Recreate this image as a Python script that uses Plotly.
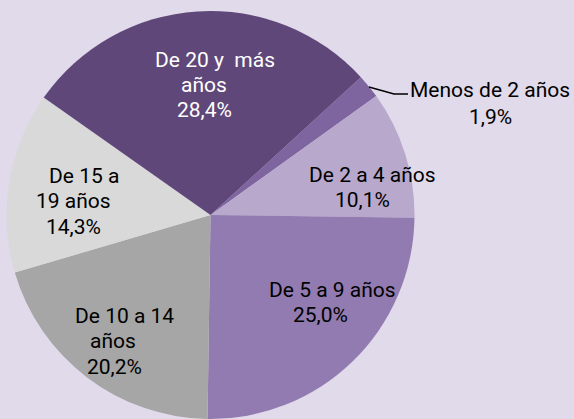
import plotly.graph_objects as go

# data (clockwise from the small slice)
labels = ["Menos de 2 años", "De 2 a 4 años", "De 5 a 9 años",
          "De 10 a 14 años", "De 15 a 19 años", "De 20 y más años"]
values = [1.9, 10.1, 25.0, 20.2, 14.3, 28.4]
colors = ["#7e659f", "#b8a8cc", "#927bb0", "#a6a6a6", "#d9d9d9", "#5f4879"]

# label text, one list of lines per slice
label_lines = [
    ["Menos de 2 años", "1,9%"],
    ["De 2 a 4 años", "10,1%"],
    ["De 5 a 9 años", "25,0%"],
    ["De 10 a 14", "años", "20,2%"],
    ["De 15 a", "19 años", "14,3%"],
    ["De 20 y  más", "años", "28,4%"],
]
label_colors = ["black", "black", "black", "black", "black", "white"]

W, H = 574, 419
BG = "#e0daea"

# line centres in pixels, per slice
label_pos = [
    [(490, 90), (490, 117)],
    [(372, 175), (362, 200)],
    [(332, 290), (320, 315)],
    [(125, 316), (113, 341), (114, 367)],
    [(84, 176), (73, 201), (73, 227)],
    [(215, 60), (204, 85), (204, 110)],
]

fig = go.Figure(go.Pie(
    labels=labels,
    values=values,
    sort=False,
    direction="clockwise",
    rotation=47.5,
    marker=dict(colors=colors, line=dict(width=0)),
    textinfo="none",
    hoverinfo="label+value",
    showlegend=False,
    domain=dict(x=[6.5 / W, 414.5 / W], y=[0, 1 - 11 / H]),
))

anns = []
for lines, pos, col in zip(label_lines, label_pos, label_colors):
    for txt, (px, py) in zip(lines, pos):
        anns.append(dict(
            x=px / W, y=1 - py / H, xref="paper", yref="paper",
            text=txt, showarrow=False, xanchor="center", yanchor="middle",
            font=dict(family="Roboto", size=21, color=col),
        ))

# leader line for the small slice
leader = [(369, 87), (394, 94), (408, 94)]
path = "M " + " L ".join(f"{x / W},{1 - y / H}" for x, y in leader)

fig.update_layout(
    width=W,
    height=H,
    margin=dict(l=0, r=0, t=0, b=0),
    paper_bgcolor=BG,
    plot_bgcolor=BG,
    annotations=anns,
    shapes=[dict(type="path", path=path, xref="paper", yref="paper",
                 line=dict(color="black", width=1.5))],
)

fig.write_html("out.html",
               config={"displayModeBar": False},
               post_script="document.body.style.margin='0';"
                           "document.body.style.overflow='hidden';")
